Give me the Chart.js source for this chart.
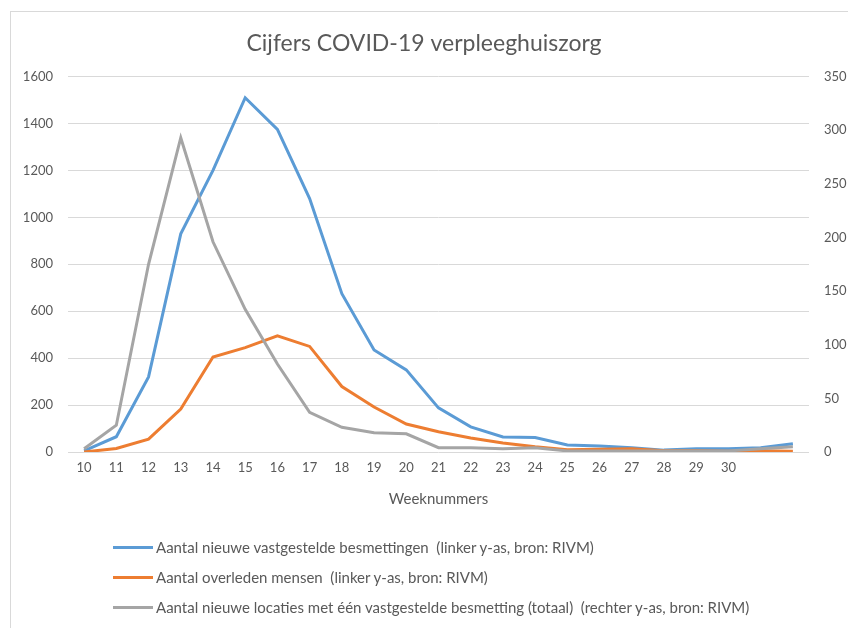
<!DOCTYPE html>
<html>
<head>
<meta charset="utf-8">
<script src="https://cdn.jsdelivr.net/npm/chart.js@4.4.1/dist/chart.umd.min.js"></script>
<style>
    body { margin: 0; background: #fff; overflow: hidden; }
    #frame { position: absolute; left: 10px; top: 11px; width: 900px; height: 700px; border: 1px solid #d9d9d9; }
    #wrap { position: absolute; left: 0; top: 0; width: 848px; height: 628px; }
    #legend { position: absolute; left: 113px; top: 532px; font: 15px Lato, sans-serif; color: #595959; }
    #legend .row { height: 30px; display: flex; align-items: center; white-space: pre; }
    #legend .swatch { width: 40px; height: 3px; margin-right: 3px; }
</style>
</head>
<body>
<div id="frame"></div>
<div id="wrap"><canvas id="chart" width="848" height="628"></canvas></div>
<div id="legend"></div>
<script>
const weeks = ["10", "11", "12", "13", "14", "15", "16", "17", "18", "19", "20",
    "21", "22", "23", "24", "25", "26", "27", "28", "29", "30", "", ""];

const besmettingen = [5, 65, 320, 930, 1200, 1510, 1375, 1080, 675, 435, 350,
    188, 107, 64, 62, 30, 26, 18, 8, 14, 14, 18, 35];

const overleden = [0, 15, 55, 183, 405, 445, 495, 450, 279, 192, 119,
    86, 60, 38, 22, 10, 12, 14, 5, 5, 3, 5, 3];

const locaties = [3, 25, 175, 293, 196, 133, 82, 37, 23, 18, 17,
    4, 4, 3, 4, 1, 1, 1, 1, 1, 1, 3, 5];

const seriesLabels = [
    "Aantal nieuwe vastgestelde besmettingen  (linker y-as, bron: RIVM)",
    "Aantal overleden mensen  (linker y-as, bron: RIVM)",
    "Aantal nieuwe locaties met één vastgestelde besmetting (totaal)  (rechter y-as, bron: RIVM)"
];

const textColor = "#595959";
const gridColor = "#d9d9d9";
const fontFamily = "Lato, sans-serif";

const datasets = [
    { label: seriesLabels[0], data: besmettingen, borderColor: "#5b9bd5", yAxisID: "y", order: 3 },
    { label: seriesLabels[1], data: overleden, borderColor: "#ed7d31", yAxisID: "y", order: 2 },
    { label: seriesLabels[2], data: locaties, borderColor: "#a5a5a5", yAxisID: "y2", order: 1 }
].map((ds) => ({
    ...ds,
    borderWidth: 3,
    pointRadius: 0,
    tension: 0,
    fill: false
}));

// plain numbers on the value axes, no thousands separator
const plainTick = (value) => String(value);

new Chart(document.getElementById("chart"), {
    type: "line",
    data: { labels: weeks, datasets },
    options: {
        responsive: false,
        animation: false,
        layout: { padding: { left: 0, right: 0, top: 0, bottom: 116 } },
        plugins: {
            legend: { display: false },
            tooltip: { enabled: false },
            title: {
                display: true,
                text: "Cijfers COVID-19 verpleeghuiszorg",
                color: textColor,
                font: { family: fontFamily, size: 23, weight: "normal" },
                padding: { top: 30, bottom: 19 }
            }
        },
        scales: {
            x: {
                offset: true,
                grid: { display: false, drawTicks: false },
                border: { display: false },
                ticks: { color: textColor, font: { family: fontFamily, size: 13 }, padding: 8, autoSkip: false, maxRotation: 0 },
                title: { display: true, text: "Weeknummers", color: textColor, font: { family: fontFamily, size: 15 } },
                afterFit: (scale) => { scale.height = 60; }
            },
            y: {
                position: "left",
                min: 0,
                max: 1600,
                ticks: { stepSize: 200, color: textColor, font: { family: fontFamily, size: 13 }, padding: 15, callback: plainTick },
                grid: { color: gridColor, lineWidth: 1, drawTicks: false },
                border: { display: false },
                afterFit: (scale) => { scale.width = 68; }
            },
            y2: {
                position: "right",
                min: 0,
                max: 350,
                ticks: { stepSize: 50, color: textColor, font: { family: fontFamily, size: 13 }, padding: 15, callback: plainTick },
                grid: { display: false, drawTicks: false },
                border: { display: false },
                afterFit: (scale) => { scale.width = 39; }
            }
        }
    }
});

const legend = document.getElementById("legend");
datasets.forEach((ds) => {
    const row = document.createElement("div");
    row.className = "row";
    const swatch = document.createElement("span");
    swatch.className = "swatch";
    swatch.style.background = ds.borderColor;
    const text = document.createElement("span");
    text.textContent = ds.label;
    row.appendChild(swatch);
    row.appendChild(text);
    legend.appendChild(row);
});
</script>
</body>
</html>
